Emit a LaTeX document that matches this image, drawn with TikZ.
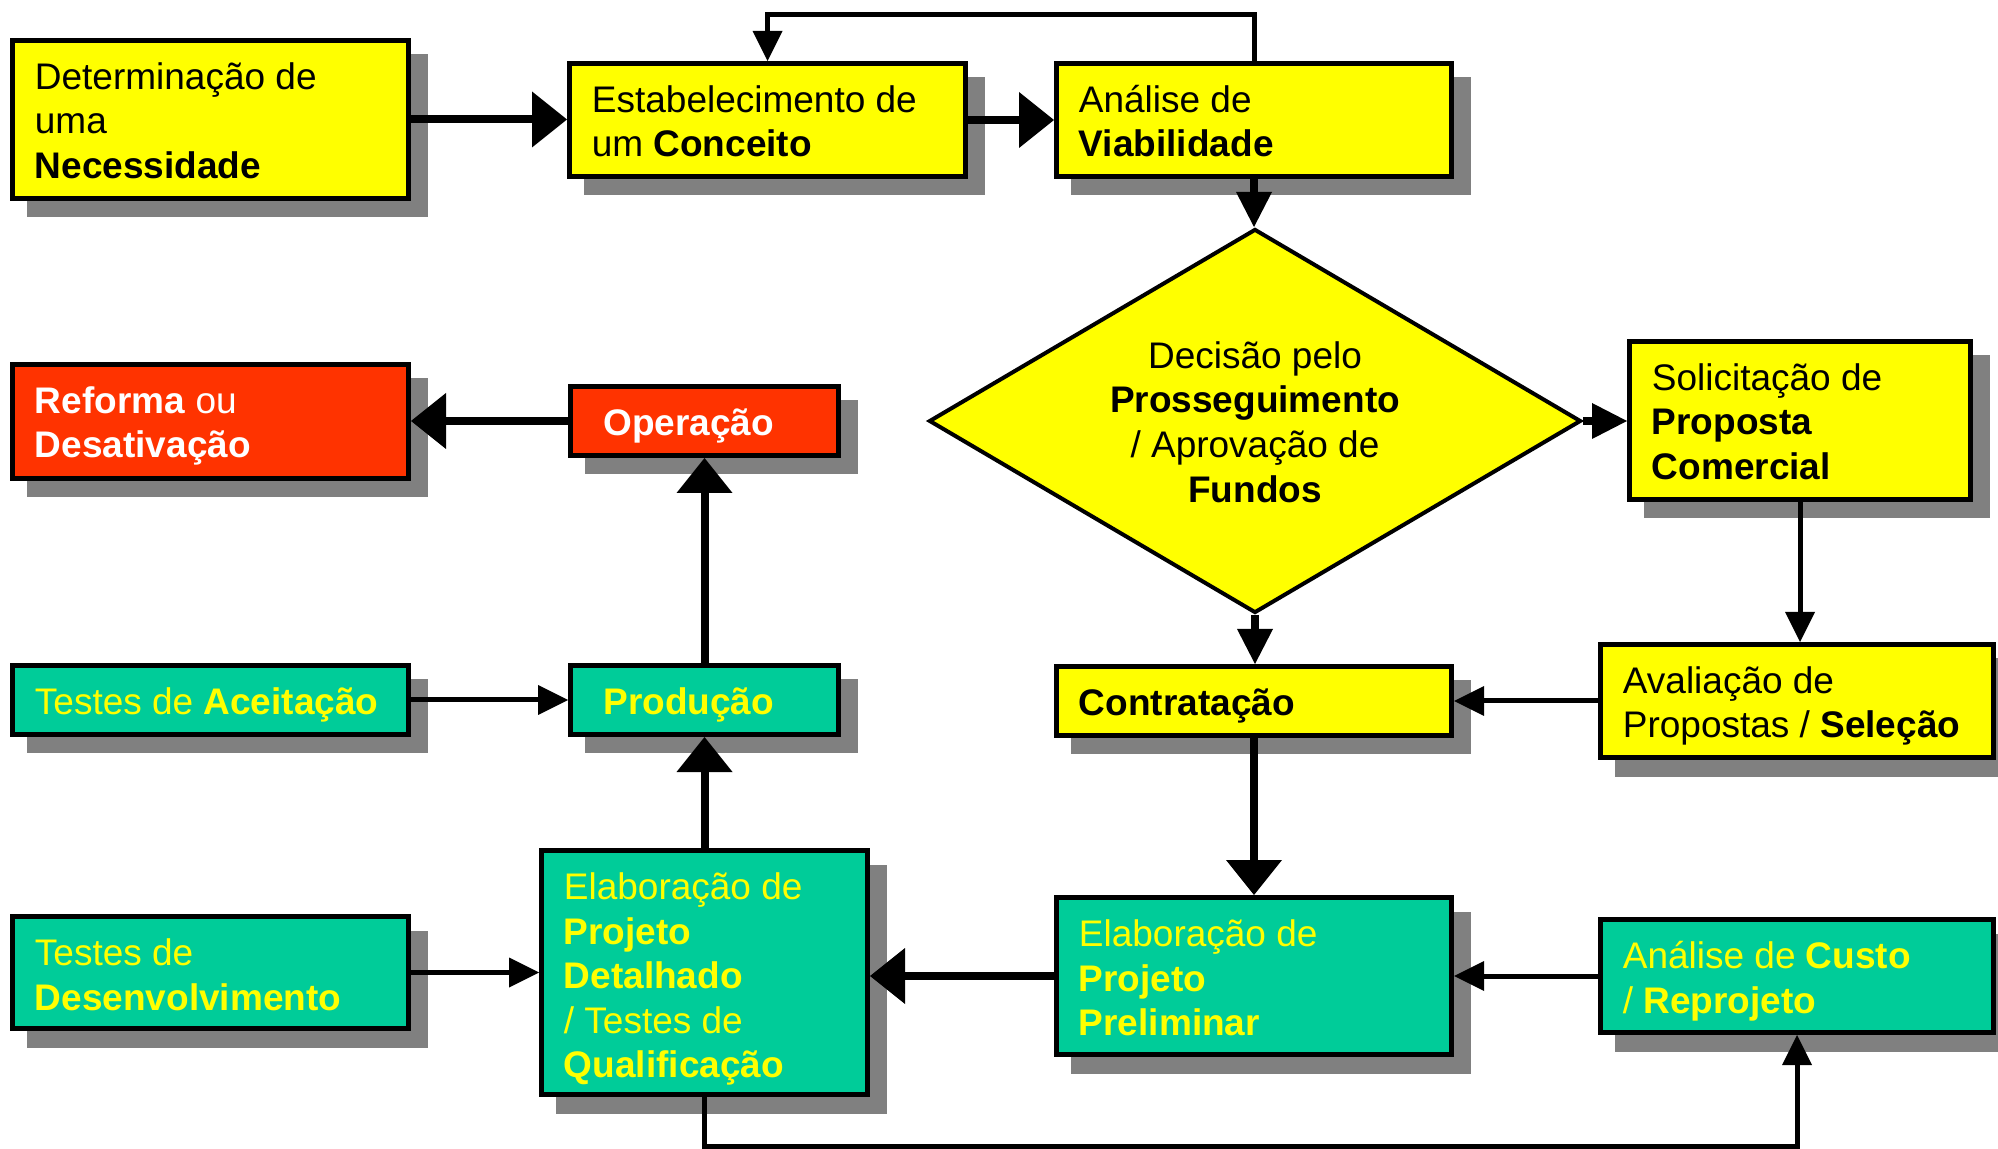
\documentclass[tikz,border=0pt]{standalone}
\usepackage{fontspec}
\setmainfont{Liberation Sans}
\usetikzlibrary{arrows.meta,shapes.geometric,calc}
\definecolor{cyel}{HTML}{FFFF00}
\definecolor{cred}{HTML}{FF3300}
\definecolor{cteal}{HTML}{00CC99}
\definecolor{cshad}{HTML}{808080}
\pgfdeclarelayer{background}
\pgfsetlayers{background,main}
\newcommand\firststrut{\rule{0pt}{20pt}}
\newcommand\mkbox[6]{%
  \pgfmathsetmacro\bw{(#5-#3-5)/2}%
  \pgfmathsetmacro\bh{(#6-#4-5)/2}%
  \node[#2, minimum width=\bw pt, minimum height=\bh pt] (#1) at ({(#3+#5)/2},{(#4+#6)/2}) {};%
}
\begin{document}
\begin{tikzpicture}[x=0.5pt,y=-0.5pt,
  boxbase/.style={draw=black, line width=2.5pt, inner sep=0pt, rectangle},
  ybox/.style={boxbase, fill=cyel},
  tbox/.style={boxbase, fill=cteal},
  rbox/.style={boxbase, fill=cred},
  txt/.style={inner sep=0pt, align=left, anchor=north west, font=\fontsize{18.5pt}{22.3pt}\selectfont},
  ktxt/.style={txt, text=black},
  ytxt/.style={txt, text=cyel},
  wtxt/.style={txt, text=white},
  linethick/.style={line width=4pt},
  linethin/.style={line width=2.5pt},
  arrbig/.style={-{Triangle[length=17.5pt,width=28pt,line width=0pt]}},
  arrmed/.style={-{Triangle[length=17.5pt,width=18pt,line width=0pt]}},
  arrsml/.style={-{Triangle[length=15pt,width=15pt,line width=0pt]}},
]
\useasboundingbox (0,0) rectangle (1998,1149);

% boxes
\mkbox{need}{ybox}{10}{38}{411}{201}
\mkbox{conc}{ybox}{567}{61}{968}{179}
\mkbox{viab}{ybox}{1054}{61}{1454}{179}
\mkbox{solic}{ybox}{1627}{339}{1973}{502}
\mkbox{aval}{ybox}{1598}{642}{1996}{760}
\mkbox{contr}{ybox}{1054}{664}{1454}{738}
\mkbox{prelim}{tbox}{1054}{895}{1454}{1057}
\mkbox{custo}{tbox}{1598}{917}{1996}{1035}
\mkbox{detal}{tbox}{539}{848}{870}{1097}
\mkbox{desenv}{tbox}{10}{914}{411}{1031}
\mkbox{aceit}{tbox}{10}{663}{411}{737}
\mkbox{prod}{tbox}{568}{663}{841}{737}
\mkbox{oper}{rbox}{568}{384}{841}{458}
\mkbox{reform}{rbox}{10}{362}{411}{481}

\node[diamond, draw=black, line width=2pt, fill=cyel, inner sep=0pt,
      minimum width=326pt, minimum height=192pt] (dia) at (1255,421) {};

% texts
\node[ktxt] (need-t) at ([shift={(24.5,11)}]need.north west) {\firststrut Determinação de\\uma\\\textbf{Necessidade}};
\node[ktxt] (conc-t) at ([shift={(24.5,11)}]conc.north west) {\firststrut Estabelecimento de\\um \textbf{Conceito}};
\node[ktxt] (viab-t) at ([shift={(24.5,11)}]viab.north west) {\firststrut Análise de\\\textbf{Viabilidade}};
\node[ktxt] (solic-t) at ([shift={(24.5,11)}]solic.north west) {\firststrut Solicitação de\\\textbf{Proposta}\\\textbf{Comercial}};
\node[ktxt] (aval-t) at ([shift={(24.5,11)}]aval.north west) {\firststrut Avaliação de\\Propostas / \textbf{Seleção}};
\node[ktxt] (contr-t) at ([shift={(24.5,11)}]contr.north west) {\firststrut\textbf{Contratação}};
\node[ytxt] (prelim-t) at ([shift={(24.5,11)}]prelim.north west) {\firststrut Elaboração de\\\textbf{Projeto}\\\textbf{Preliminar}};
\node[ytxt] (custo-t) at ([shift={(24.5,11)}]custo.north west) {\firststrut Análise de \textbf{Custo}\\/ \textbf{Reprojeto}};
\node[ytxt] (detal-t) at ([shift={(24.5,11)}]detal.north west) {\firststrut Elaboração de\\\textbf{Projeto}\\\textbf{Detalhado}\\/ Testes de\\\textbf{Qualificação}};
\node[ytxt] (desenv-t) at ([shift={(24.5,11)}]desenv.north west) {\firststrut Testes de\\\textbf{Desenvolvimento}};
\node[ytxt] (aceit-t) at ([shift={(24.5,11)}]aceit.north west) {\firststrut Testes de \textbf{Aceitação}};
\node[ytxt] (prod-t) at ([shift={(35,11)}]prod.north west) {\firststrut\textbf{Produção}};
\node[wtxt] (oper-t) at ([shift={(35,11)}]oper.north west) {\firststrut\textbf{Operação}};
\node[wtxt] (reform-t) at ([shift={(24.5,11)}]reform.north west) {\firststrut\textbf{Reforma} ou\\\textbf{Desativação}};
\node[ktxt, align=center, anchor=north] (dia-t) at ([shift={(0,-93)}]dia.center) {\firststrut Decisão pelo\\\textbf{Prosseguimento}\\/ Aprovação de\\\textbf{Fundos}};

% connectors
\draw[linethick, arrbig] (need.east) -- (need.east -| conc.west);
\draw[linethick, arrbig] (conc.east) -- (conc.east -| viab.west);
\draw[linethin, arrsml] (viab.north) -- ++(0,-46) -| (conc.north);
\draw[linethick, arrmed] (viab.south) -- (viab.south |- dia.north);
\draw[linethick, arrmed] (dia.east) -- (dia.east -| solic.west);
\draw[linethick, arrmed] (dia.south) -- (dia.south |- contr.north);
\draw[linethin, arrsml] (solic.south) -- (solic.south |- aval.north);
\draw[linethin, arrsml] (aval.west) -- (aval.west -| contr.east);
\draw[linethick, arrbig] (contr.south) -- (contr.south |- prelim.north);
\draw[linethin, arrsml] (custo.west) -- (custo.west -| prelim.east);
\draw[linethick, arrbig] (prelim.west) -- (prelim.west -| detal.east);
\draw[linethin, arrsml] (desenv.east) -- (desenv.east -| detal.west);
\draw[linethin, arrsml] (aceit.east) -- (aceit.east -| prod.west);
\draw[linethick, arrbig] (detal.north) -- (detal.north |- prod.south);
\draw[linethick, arrbig] (prod.north) -- (prod.north |- oper.south);
\draw[linethick, arrbig] (oper.west) -- (oper.west -| reform.east);
\draw[linethin, arrsml] (detal.south) -- ++(0,49) -| (custo.south);

% shadows
\begin{pgfonlayer}{background}
\fill[white] (0,0) rectangle (1998,1149);
\foreach \n in {need,conc,viab,solic,aval,contr,prelim,custo,detal,desenv,aceit,prod,oper,reform}
  \fill[cshad] ([shift={(16.5,16.5)}]\n.north west) rectangle ([shift={(16.5,16.5)}]\n.south east);
\end{pgfonlayer}
\end{tikzpicture}
\end{document}
